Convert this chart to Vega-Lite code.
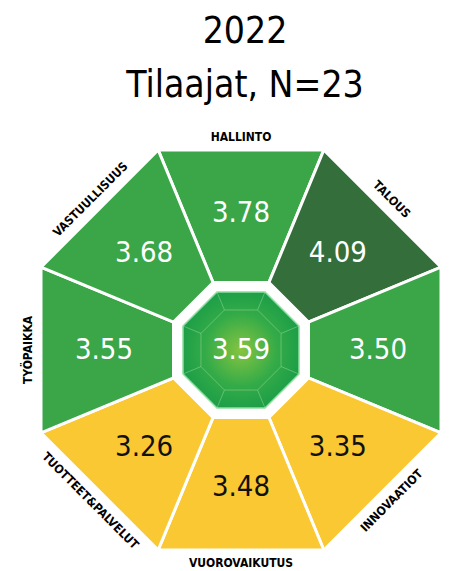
{
  "$schema": "https://vega.github.io/schema/vega-lite/v6.json",
  "width": 416,
  "height": 442,
  "autosize": "none",
  "padding": {"left": 33, "top": 129, "right": 0, "bottom": 0},
  "background": "white",
  "config": {"view": {"stroke": null}},
  "title": {
    "text": ["2022", "Tilaajat, N=23"],
    "fontSize": 37,
    "font": "DejaVu Sans Condensed, Roboto, sans-serif",
    "fontWeight": "normal",
    "lineHeight": 54,
    "color": "black",
    "anchor": "middle",
    "offset": 24,
    "dx": 4
  },
  "datasets": {
    "segments": [
      {"segment": "HALLINTO", "value": 3.78},
      {"segment": "TALOUS", "value": 4.09},
      {"segment": "IMAGO", "value": 3.50},
      {"segment": "INNOVAATIOT", "value": 3.35},
      {"segment": "VUOROVAIKUTUS", "value": 3.48},
      {"segment": "TUOTTEET&PALVELUT", "value": 3.26},
      {"segment": "TYÖPAIKKA", "value": 3.55},
      {"segment": "VASTUULLISUUS", "value": 3.68}
    ],
    "overall": [{"ryhma": "Kaikki", "value": 3.59}]
  },
  "layer": [
    {
      "data": {"name": "segments"},
      "mark": {
        "type": "point",
        "shape": "M -0.41421 -1 L 0.41421 -1 L 0.1398 -0.3375 L -0.1398 -0.3375 Z",
        "size": 160000,
        "filled": true,
        "opacity": 1,
        "stroke": "white",
        "strokeWidth": 3
      },
      "encoding": {
        "color": {
          "field": "value",
          "type": "quantitative",
          "scale": {"type": "threshold", "domain": [3.5, 4], "range": ["#fac832", "#3aa648", "#346e3a"]},
          "legend": null
        },
        "angle": {
          "field": "segment",
          "type": "nominal",
          "scale": {
            "type": "ordinal",
            "domain": ["HALLINTO", "TALOUS", "IMAGO", "INNOVAATIOT", "VUOROVAIKUTUS", "TUOTTEET&PALVELUT", "TYÖPAIKKA", "VASTUULLISUUS"],
            "range": [0, 45, 90, 135, 180, 225, 270, 315]
          },
          "legend": null
        }
      }
    },
    {
      "data": {"name": "overall"},
      "mark": {
        "type": "point",
        "shape": "M -0.41421 -1 L 0.41421 -1 L 1 -0.41421 L 1 0.41421 L 0.41421 1 L -0.41421 1 L -1 0.41421 L -1 -0.41421 Z",
        "size": 13456,
        "filled": true,
        "opacity": 1,
        "fill": {
          "gradient": "radial",
          "x1": 0.5, "y1": 0.5, "x2": 0.5, "y2": 0.5, "r1": 0, "r2": 0.62,
          "stops": [
            {"offset": 0, "color": "#86c440"},
            {"offset": 0.5, "color": "#34ab48"},
            {"offset": 1, "color": "#129848"}
          ]
        },
        "stroke": "#8fe0a0",
        "strokeWidth": 1.5
      },
      "encoding": {}
    },
    {
      "data": {"name": "overall"},
      "mark": {
        "type": "point",
        "shape": "M -0.2857 -0.69 L 0.2857 -0.69 L 0.69 -0.2857 L 0.69 0.2857 L 0.2857 0.69 L -0.2857 0.69 L -0.69 0.2857 L -0.69 -0.2857 Z M -0.2857 -0.69 L -0.41421 -1 M 0.2857 -0.69 L 0.41421 -1 M 0.69 -0.2857 L 1 -0.41421 M 0.69 0.2857 L 1 0.41421 M 0.2857 0.69 L 0.41421 1 M -0.2857 0.69 L -0.41421 1 M -0.69 0.2857 L -1 0.41421 M -0.69 -0.2857 L -1 -0.41421",
        "size": 13456,
        "filled": false,
        "opacity": 1,
        "stroke": "#c8f0c0",
        "strokeOpacity": 0.35,
        "strokeWidth": 1
      },
      "encoding": {}
    },
    {
      "data": {"name": "segments"},
      "mark": {
        "type": "text",
        "radius": 137,
        "fontSize": 29,
        "font": "DejaVu Sans Condensed, Roboto, sans-serif",
        "align": "center",
        "baseline": "middle"
      },
      "encoding": {
        "theta": {
          "field": "segment",
          "type": "nominal",
          "scale": {
            "type": "point",
            "domain": ["HALLINTO", "TALOUS", "IMAGO", "INNOVAATIOT", "VUOROVAIKUTUS", "TUOTTEET&PALVELUT", "TYÖPAIKKA", "VASTUULLISUUS"],
            "range": [-0.3927, 5.8905],
            "padding": 0.5
          }
        },
        "text": {"field": "value", "type": "quantitative", "format": ".2f"},
        "fill": {
          "field": "value",
          "type": "quantitative",
          "scale": {"type": "threshold", "domain": [3.5, 4], "range": ["#111111", "#ffffff", "#ffffff"]},
          "legend": null
        }
      }
    },
    {
      "data": {"name": "overall"},
      "mark": {
        "type": "text",
        "fontSize": 29,
        "font": "DejaVu Sans Condensed, Roboto, sans-serif",
        "align": "center",
        "baseline": "middle",
        "color": "white"
      },
      "encoding": {
        "text": {"field": "value", "type": "quantitative", "format": ".2f"}
      }
    },
    {
      "data": {"name": "segments"},
      "mark": {
        "type": "text",
        "radius": 213,
        "fontSize": 12,
        "font": "DejaVu Sans Condensed, Roboto, sans-serif",
        "fontWeight": "bold",
        "align": "center",
        "baseline": "middle",
        "color": "black"
      },
      "encoding": {
        "theta": {
          "field": "segment",
          "type": "nominal",
          "scale": {
            "type": "point",
            "domain": ["HALLINTO", "TALOUS", "IMAGO", "INNOVAATIOT", "VUOROVAIKUTUS", "TUOTTEET&PALVELUT", "TYÖPAIKKA", "VASTUULLISUUS"],
            "range": [-0.3927, 5.8905],
            "padding": 0.5
          }
        },
        "text": {"field": "segment", "type": "nominal"},
        "angle": {
          "field": "segment",
          "type": "nominal",
          "scale": {
            "type": "ordinal",
            "domain": ["HALLINTO", "TALOUS", "IMAGO", "INNOVAATIOT", "VUOROVAIKUTUS", "TUOTTEET&PALVELUT", "TYÖPAIKKA", "VASTUULLISUUS"],
            "range": [0, 45, 90, -45, 0, 45, -90, -45]
          },
          "legend": null
        }
      }
    }
  ],
  "resolve": {"scale": {"angle": "independent"}}
}
